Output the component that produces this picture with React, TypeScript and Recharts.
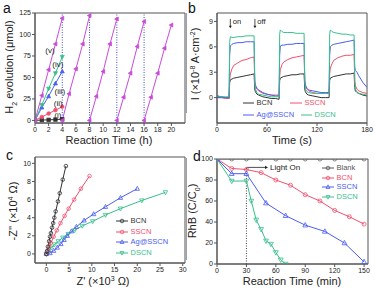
import React from 'react'
import { LineChart, Line, XAxis, YAxis, ReferenceLine, ReferenceArea, ReferenceDot } from 'recharts'

const FONT = '"Liberation Sans", Arial, sans-serif'
const AXIS = '#555'
const INK = '#222'

const BLACK = '#333333'
const RED = '#f2506e'
const BLUE = '#4b5ef0'
const GREEN = '#38c08c'
const MAGENTA = '#c94bd9'

// ---- panel a: H2 evolution vs reaction time
const A_TIME = [0, 1, 2, 3, 4]
const A_I = [0, 0.4, 0.7, 1.0, 1.5]
const A_II = [0, 4, 8, 12, 16]
const A_III = [0, 15, 28, 43, 57]
const A_IV = [0, 18, 37, 55, 74]
const A_V = [0, 29, 59, 89, 119]
const A_CYCLE_START = [4, 8, 12, 16]
const A_CYCLE_2 = [0, 31, 60, 89, 122]
const A_CYCLE_3 = [0, 28, 57, 89, 118]
const A_CYCLE_4 = [0, 27, 55, 86, 115]
const A_CYCLE_5 = [0, 27, 55, 84, 111]
const A_X_TICKS = [0, 2, 4, 6, 8, 10, 12, 14, 16, 18, 20]
const A_Y_TICKS = [0, 25, 50, 75, 100, 125]

// ---- panel b: photocurrent
const B_TIME = [
  0, 5, 10, 14.5,
  15.2, 16, 18, 20, 25, 30, 35, 40, 44.5,
  45.3, 46, 48, 50, 55, 60, 65, 70, 74.5,
  75.2, 76, 78, 80, 85, 90, 95, 100, 104.5,
  105.3, 106, 108, 110, 115, 120, 125, 130, 134.5,
  135.2, 136, 138, 140, 145, 150, 155, 160, 164.5,
  165.3, 166, 168, 170, 175, 180,
]
const B_BCN = [
  0.2, 0.1, 0.0, -0.1,
  1.8, 2.1, 2.2, 2.3, 2.4, 2.5, 2.6, 2.7, 2.8,
  1.0, 0.7, 0.4, 0.3, 0.1, 0.0, -0.1, -0.1, -0.2,
  2.0, 2.3, 2.4, 2.5, 2.6, 2.7, 2.7, 2.8, 2.8,
  1.0, 0.7, 0.4, 0.3, 0.2, 0.1, 0.0, 0.0, 0.0,
  2.0, 2.3, 2.4, 2.5, 2.6, 2.7, 2.8, 2.8, 2.9,
  1.2, 0.8, 0.6, 0.5, 0.3, 0.2,
]
const B_SSCN = [
  0.0, 0.0, -0.1, -0.1,
  2.0, 2.8, 3.4, 3.8, 4.1, 4.4, 4.5, 4.7, 4.8,
  1.8, 1.3, 1.0, 0.8, 0.5, 0.4, 0.3, 0.3, 0.3,
  2.5, 3.3, 3.9, 4.2, 4.5, 4.7, 4.8, 4.9, 5.0,
  2.0, 1.4, 1.0, 0.8, 0.6, 0.5, 0.5, 0.5, 0.5,
  2.8, 3.5, 4.0, 4.4, 4.7, 4.9, 5.0, 5.0, 5.1,
  2.0, 1.4, 1.0, 0.8, 0.6, 0.5,
]
const B_AG = [
  0.0, 0.0, 0.0, 0.0,
  5.0, 6.1, 6.3, 6.4, 6.5, 6.5, 6.6, 6.6, 6.6,
  2.0, 1.5, 1.1, 0.9, 0.6, 0.4, 0.3, 0.2, 0.2,
  5.0, 6.1, 6.2, 6.2, 6.3, 6.3, 6.4, 6.4, 6.4,
  2.0, 1.5, 1.1, 0.9, 0.8, 0.7, 0.6, 0.6, 0.6,
  5.0, 6.0, 6.2, 6.3, 6.4, 6.5, 6.6, 6.7, 6.8,
  3.6, 3.2, 3.0, 2.6, 1.8, 1.2,
]
const B_DSCN = [
  0.2, 0.1, 0.1, 0.1,
  6.5, 7.2, 7.1, 7.1, 7.2, 7.2, 7.3, 7.3, 7.3,
  2.0, 1.0, 0.6, 0.4, 0.3, 0.2, 0.1, 0.1, 0.1,
  7.5, 8.0, 7.8, 7.7, 7.7, 7.7, 7.6, 7.6, 7.6,
  2.0, 1.0, 0.7, 0.6, 0.5, 0.5, 0.5, 0.5, 0.5,
  7.5, 8.0, 7.8, 7.7, 7.6, 7.5, 7.5, 7.4, 7.4,
  2.0, 1.0, 0.7, 0.5, 0.4, 0.3,
]
const B_X_TICKS = [0, 60, 120, 180]
const B_Y_TICKS = [0, 3, 6, 9]

// ---- panel c: Nyquist plots (Z' x10^3, -Z'' x10^4)
const C_BCN_X = [0, 0.15, 0.35, 0.6, 0.8, 1.0, 1.25, 1.5, 1.75, 2.05, 2.55, 2.95, 3.6, 4.3]
const C_BCN_Y = [0, 0.3, 0.8, 1.4, 1.9, 2.3, 2.9, 3.4, 4.0, 4.7, 5.8, 6.7, 8.2, 9.7]
const C_SSCN_X = [0, 0.3, 0.6, 1.0, 1.6, 2.3, 3.1, 4.0, 4.9, 6.1, 7.6, 9.5]
const C_SSCN_Y = [0, 0.4, 0.8, 1.2, 1.9, 2.6, 3.4, 4.2, 5.0, 6.0, 7.2, 8.6]
const C_AG_X = [0, 0.8, 1.6, 2.4, 3.2, 3.9, 4.6, 5.5, 6.6, 8.3, 10.4, 13.0, 16.3, 20.0]
const C_AG_Y = [0, 0.1, 0.35, 0.7, 1.1, 1.55, 2.0, 2.5, 3.0, 3.7, 4.4, 5.2, 6.2, 7.2]
const C_DSCN_X = [0, 0.5, 1.1, 1.8, 2.6, 3.6, 4.8, 6.2, 7.9, 10.2, 13.0, 16.3, 21.0, 26.2]
const C_DSCN_Y = [0, 0.35, 0.7, 1.05, 1.4, 1.8, 2.2, 2.6, 3.1, 3.6, 4.3, 5.0, 5.9, 6.8]
const C_X_TICKS = [0, 5, 10, 15, 20, 25, 30]
const C_Y_TICKS = [0, 2, 4, 6, 8, 10]

// ---- panel d: RhB degradation
const D_T_BLANK = [0, 15, 30, 45, 60, 75, 90, 105, 120, 135, 150]
const D_BLANK = [100, 100, 100, 100, 100, 100, 100, 100, 100, 100, 100]
const D_T_BCN = [0, 15, 30, 45, 60, 75, 90, 105, 120, 135, 150]
const D_BCN = [100, 91, 90, 87, 80, 75, 66, 60, 51, 45, 38]
const D_T_SSCN = [0, 15, 30, 50, 70, 90, 110, 130, 150]
const D_SSCN = [100, 86, 86, 58, 46, 37, 31, 20, 2]
const D_T_DSCN = [0, 15, 30, 35, 40, 45, 50, 55, 60, 65, 70]
const D_DSCN = [100, 79, 79, 60, 42, 33, 22, 19, 11, 4, 0]
const D_X_TICKS = [0, 30, 60, 90, 120, 150]
const D_Y_TICKS = [0, 20, 40, 60, 80, 100]

const pts = (xs: number[], ys: number[]) => xs.map((x, i) => ({ x, y: ys[i] }))

const tickStyle = { fontSize: 7, fill: INK, fontFamily: FONT }
const axisCommon = {
  stroke: AXIS,
  tick: tickStyle,
  tickSize: 3,
  tickMargin: 1,
  interval: 0 as const,
  allowDataOverflow: true,
}

type Shape = 'circle' | 'square' | 'up' | 'down' | 'left'

function Marker({ cx, cy, shape, color, filled, s }: any) {
  if (cx == null || cy == null || isNaN(cx) || isNaN(cy)) return <g />
  const p = { fill: filled ? color : 'none', stroke: color, strokeWidth: 0.8 }
  if (shape === 'square') return <rect x={cx - s} y={cy - s} width={s * 2} height={s * 2} {...p} />
  if (shape === 'up')
    return <polygon points={`${cx},${cy - s * 1.2} ${cx - s * 1.1},${cy + s * 0.8} ${cx + s * 1.1},${cy + s * 0.8}`} {...p} />
  if (shape === 'down')
    return <polygon points={`${cx},${cy + s * 1.2} ${cx - s * 1.1},${cy - s * 0.8} ${cx + s * 1.1},${cy - s * 0.8}`} {...p} />
  if (shape === 'left')
    return <polygon points={`${cx - s * 1.2},${cy} ${cx + s * 0.8},${cy - s * 1.1} ${cx + s * 0.8},${cy + s * 1.1}`} {...p} />
  return <circle cx={cx} cy={cy} r={s} {...p} />
}

const dot = (shape: Shape, color: string, filled: boolean, s: number) => (props: any) => (
  <Marker key={`m-${props.index}`} cx={props.cx} cy={props.cy} shape={shape} color={color} filled={filled} s={s} />
)

function VTitle({ x, y, children }: any) {
  return (
    <div style={{ position: 'absolute', left: x, top: y, transform: 'translate(-50%, -50%) rotate(-90deg)', whiteSpace: 'nowrap', fontSize: 11, color: INK, lineHeight: '12px' }}>
      {children}
    </div>
  )
}

function HTitle({ x, y, children }: any) {
  return (
    <div style={{ position: 'absolute', left: x, top: y, transform: 'translate(-50%, -50%)', whiteSpace: 'nowrap', fontSize: 11, color: INK, lineHeight: '12px' }}>
      {children}
    </div>
  )
}

function Letter({ x, y, children }: any) {
  return <div style={{ position: 'absolute', left: x, top: y, fontSize: 14, lineHeight: '14px', color: '#111' }}>{children}</div>
}

function LegendItem({ x, y, color, label, shape, len = 11 }: any) {
  return (
    <div style={{ position: 'absolute', left: x, top: y - 5, height: 10, display: 'flex', alignItems: 'center', whiteSpace: 'nowrap' }}>
      <svg width={len} height={10} style={{ display: 'block' }}>
        <line x1={0} y1={5} x2={len} y2={5} stroke={color} strokeWidth={1} />
        {shape ? <Marker cx={len / 2} cy={5} shape={shape} color={color} filled={false} s={1.8} /> : null}
      </svg>
      <span style={{ fontSize: 7.5, color, marginLeft: 2.5, lineHeight: '10px' }}>{label}</span>
    </div>
  )
}

const downArrow = (props: any) => (
  <polygon points={`${props.cx - 1.5},${props.cy - 2.5} ${props.cx + 1.5},${props.cy - 2.5} ${props.cx},${props.cy}`} fill={INK} />
)
const rightArrow = (props: any) => (
  <polygon points={`${props.cx - 3},${props.cy - 1.6} ${props.cx - 3},${props.cy + 1.6} ${props.cx},${props.cy}`} fill={INK} />
)

function PanelA() {
  const cycles = [A_CYCLE_2, A_CYCLE_3, A_CYCLE_4, A_CYCLE_5].map((vals, k) =>
    pts(A_TIME.map((t) => t + A_CYCLE_START[k]), vals),
  )
  const lbl = (v: string) => ({ value: v, position: 'center' as const, fontSize: 8, fill: INK, fontFamily: FONT })
  return (
    <LineChart width={190} height={145} margin={{ top: 13, right: 5, bottom: 0, left: 0 }}>
      <XAxis type="number" dataKey="x" domain={[0, 22]} ticks={A_X_TICKS} height={22} {...axisCommon} />
      <YAxis type="number" domain={[-3, 125]} ticks={A_Y_TICKS} width={35} {...axisCommon} />
      <ReferenceArea x1={0} x2={22} y1={-3} y2={125} fill="none" stroke={AXIS} strokeWidth={1} />
      {A_CYCLE_START.map((x) => (
        <ReferenceLine key={x} x={x} stroke="#3f4fc8" strokeDasharray="1 1.5" />
      ))}
      <Line data={pts(A_TIME, A_I)} dataKey="y" stroke={BLACK} strokeWidth={1} dot={dot('square', BLACK, true, 1.7)} activeDot={false} isAnimationActive={false} />
      <Line data={pts(A_TIME, A_II)} dataKey="y" stroke={RED} strokeWidth={1} dot={dot('circle', RED, true, 1.8)} activeDot={false} isAnimationActive={false} />
      <Line data={pts(A_TIME, A_III)} dataKey="y" stroke={BLUE} strokeWidth={1} dot={dot('up', BLUE, true, 1.8)} activeDot={false} isAnimationActive={false} />
      <Line data={pts(A_TIME, A_IV)} dataKey="y" stroke={GREEN} strokeWidth={1} dot={dot('down', GREEN, true, 1.8)} activeDot={false} isAnimationActive={false} />
      <Line data={pts(A_TIME, A_V)} dataKey="y" stroke={MAGENTA} strokeWidth={1} dot={dot('left', MAGENTA, true, 1.8)} activeDot={false} isAnimationActive={false} />
      {cycles.map((d, k) => (
        <Line key={k} data={d} dataKey="y" stroke={MAGENTA} strokeWidth={1} dot={dot('left', MAGENTA, true, 1.8)} activeDot={false} isAnimationActive={false} />
      ))}
      <ReferenceDot x={2.2} y={82} r={0} label={lbl('(v)')} />
      <ReferenceDot x={3.35} y={66} r={0} label={lbl('(iv)')} />
      <ReferenceDot x={3.65} y={34} r={0} label={lbl('(iii)')} />
      <ReferenceDot x={3.4} y={20} r={0} label={lbl('(ii)')} />
      <ReferenceDot x={3.35} y={6.5} r={0} label={lbl('(i)')} />
    </LineChart>
  )
}

function PanelB() {
  const data = B_TIME.map((t, i) => ({ x: t, bcn: B_BCN[i], sscn: B_SSCN[i], ag: B_AG[i], dscn: B_DSCN[i] }))
  const lbl = (v: string) => ({ value: v, position: 'right' as const, offset: 2, fontSize: 7.5, fill: INK, fontFamily: FONT })
  return (
    <LineChart width={190} height={145} data={data} margin={{ top: 13, right: 8, bottom: 0, left: 0 }}>
      <XAxis type="number" dataKey="x" domain={[0, 180]} ticks={B_X_TICKS} height={22} {...axisCommon} />
      <YAxis type="number" domain={[-3, 10]} ticks={B_Y_TICKS} width={32} {...axisCommon} />
      <ReferenceArea x1={0} x2={180} y1={-3} y2={10} fill="none" stroke={AXIS} strokeWidth={1} />
      <Line dataKey="bcn" stroke={BLACK} strokeWidth={1} dot={false} activeDot={false} isAnimationActive={false} />
      <Line dataKey="sscn" stroke={RED} strokeWidth={1} dot={false} activeDot={false} isAnimationActive={false} />
      <Line dataKey="ag" stroke={BLUE} strokeWidth={1} dot={false} activeDot={false} isAnimationActive={false} />
      <Line dataKey="dscn" stroke={GREEN} strokeWidth={1} dot={false} activeDot={false} isAnimationActive={false} />
      <ReferenceLine segment={[{ x: 16, y: 9.3 }, { x: 16, y: 8.4 }]} stroke={INK} strokeWidth={0.8} />
      <ReferenceLine segment={[{ x: 45.5, y: 9.3 }, { x: 45.5, y: 8.4 }]} stroke={INK} strokeWidth={0.8} />
      <ReferenceDot x={16} y={8.2} r={0} shape={downArrow} />
      <ReferenceDot x={45.5} y={8.2} r={0} shape={downArrow} />
      <ReferenceDot x={16.5} y={9.0} r={0} label={lbl('on')} />
      <ReferenceDot x={46} y={9.0} r={0} label={lbl('off')} />
    </LineChart>
  )
}

function PanelC() {
  return (
    <LineChart width={190} height={145} margin={{ top: 12, right: 5, bottom: 0, left: 0 }}>
      <XAxis type="number" dataKey="x" domain={[-2.5, 30.5]} ticks={C_X_TICKS} height={27} {...axisCommon} />
      <YAxis type="number" domain={[-1, 10.7]} ticks={C_Y_TICKS} width={35} {...axisCommon} />
      <ReferenceArea x1={-2.5} x2={30.5} y1={-1} y2={10.7} fill="none" stroke={AXIS} strokeWidth={1} />
      <Line data={pts(C_DSCN_X, C_DSCN_Y)} dataKey="y" stroke={GREEN} strokeWidth={1} dot={dot('down', GREEN, false, 2)} activeDot={false} isAnimationActive={false} />
      <Line data={pts(C_AG_X, C_AG_Y)} dataKey="y" stroke={BLUE} strokeWidth={1} dot={dot('up', BLUE, false, 2)} activeDot={false} isAnimationActive={false} />
      <Line data={pts(C_SSCN_X, C_SSCN_Y)} dataKey="y" stroke={RED} strokeWidth={1} dot={dot('circle', RED, false, 1.8)} activeDot={false} isAnimationActive={false} />
      <Line data={pts(C_BCN_X, C_BCN_Y)} dataKey="y" stroke={BLACK} strokeWidth={1} dot={dot('circle', BLACK, false, 1.8)} activeDot={false} isAnimationActive={false} />
    </LineChart>
  )
}

function PanelD() {
  return (
    <LineChart width={190} height={145} margin={{ top: 14, right: 7, bottom: 0, left: 0 }}>
      <XAxis type="number" dataKey="x" domain={[0, 154]} ticks={D_X_TICKS} height={26} {...axisCommon} />
      <YAxis type="number" domain={[0, 100]} ticks={D_Y_TICKS} width={32} {...axisCommon} />
      <ReferenceArea x1={0} x2={154} y1={0} y2={100} fill="none" stroke={AXIS} strokeWidth={1} />
      <ReferenceLine segment={[{ x: 30, y: 0 }, { x: 30, y: 92 }]} stroke="#444" strokeDasharray="1 1.5" />
      <ReferenceLine segment={[{ x: 30, y: 92 }, { x: 50, y: 92 }]} stroke={INK} strokeWidth={0.8} />
      <ReferenceDot x={52} y={92} r={0} shape={rightArrow} label={{ value: 'Light On', position: 'right', offset: 2, fontSize: 8, fill: INK, fontFamily: FONT }} />
      <Line data={pts(D_T_BLANK, D_BLANK)} dataKey="y" stroke="#666" strokeWidth={1} dot={dot('circle', '#666', false, 2)} activeDot={false} isAnimationActive={false} />
      <Line data={pts(D_T_BCN, D_BCN)} dataKey="y" stroke={RED} strokeWidth={1} dot={dot('circle', RED, false, 2)} activeDot={false} isAnimationActive={false} />
      <Line data={pts(D_T_SSCN, D_SSCN)} dataKey="y" stroke={BLUE} strokeWidth={1} dot={dot('up', BLUE, false, 2.2)} activeDot={false} isAnimationActive={false} />
      <Line data={pts(D_T_DSCN, D_DSCN)} dataKey="y" stroke={GREEN} strokeWidth={1} dot={dot('down', GREEN, false, 2.2)} activeDot={false} isAnimationActive={false} />
    </LineChart>
  )
}

export default function App() {
  const box = (left: number, top: number) => ({ position: 'absolute' as const, left, top, width: 190, height: 145 })
  return (
    <div style={{ position: 'absolute', left: 0, top: 0, width: 375, height: 290, background: '#fff', overflow: 'hidden', fontFamily: FONT }}>
      <div style={box(0, 0)}><PanelA /></div>
      <div style={box(185, 0)}><PanelB /></div>
      <div style={box(0, 145)}><PanelC /></div>
      <div style={box(185, 145)}><PanelD /></div>

      <div style={{ position: 'absolute', left: 186, top: 13, width: 1, height: 100, background: '#9aa0aa' }} />
      <div style={{ position: 'absolute', left: 186, top: 158, width: 1, height: 102, background: '#9aa0aa' }} />

      <Letter x={3} y={1}>a</Letter>
      <Letter x={188} y={1}>b</Letter>
      <Letter x={6} y={148}>c</Letter>
      <Letter x={193} y={149}>d</Letter>

      <VTitle x={12} y={67}>H<sub style={{ fontSize: 7 }}>2</sub> evolution (μmol)</VTitle>
      <HTitle x={109} y={139.5}>Reaction Time (h)</HTitle>

      <VTitle x={194} y={64}>I (×10<sup style={{ fontSize: 7 }}>-8</sup> A·cm<sup style={{ fontSize: 7 }}>-2</sup>)</VTitle>
      <HTitle x={292} y={139.5}>Time (s)</HTitle>

      <VTitle x={12} y={211}>-Z'' (×10<sup style={{ fontSize: 7 }}>4</sup> Ω)</VTitle>
      <HTitle x={103} y={280}>Z' (×10<sup style={{ fontSize: 7 }}>3</sup> Ω)</HTitle>

      <VTitle x={195} y={211}>RhB (C/C<sub style={{ fontSize: 7 }}>0</sub>)</VTitle>
      <HTitle x={292} y={281}>Reaction Time (min)</HTitle>

      <LegendItem x={243} y={103} color={BLACK} label="BCN" />
      <LegendItem x={290} y={103} color={RED} label="SSCN" len={12} />
      <LegendItem x={243} y={115} color={BLUE} label="Ag@SSCN" />
      <LegendItem x={301} y={115} color={GREEN} label="DSCN" />

      <LegendItem x={116} y={221} color={BLACK} label="BCN" shape="circle" len={12} />
      <LegendItem x={116} y={231.5} color={RED} label="SSCN" shape="circle" len={12} />
      <LegendItem x={116} y={242} color={BLUE} label="Ag@SSCN" shape="up" len={12} />
      <LegendItem x={116} y={252.5} color={GREEN} label="DSCN" shape="down" len={12} />

      <LegendItem x={322} y={168} color="#555" label="Blank" shape="circle" len={12} />
      <LegendItem x={322} y={177.5} color={RED} label="BCN" shape="circle" len={12} />
      <LegendItem x={322} y={187} color={BLUE} label="SSCN" shape="up" len={12} />
      <LegendItem x={322} y={196.5} color={GREEN} label="DSCN" shape="down" len={12} />
    </div>
  )
}
